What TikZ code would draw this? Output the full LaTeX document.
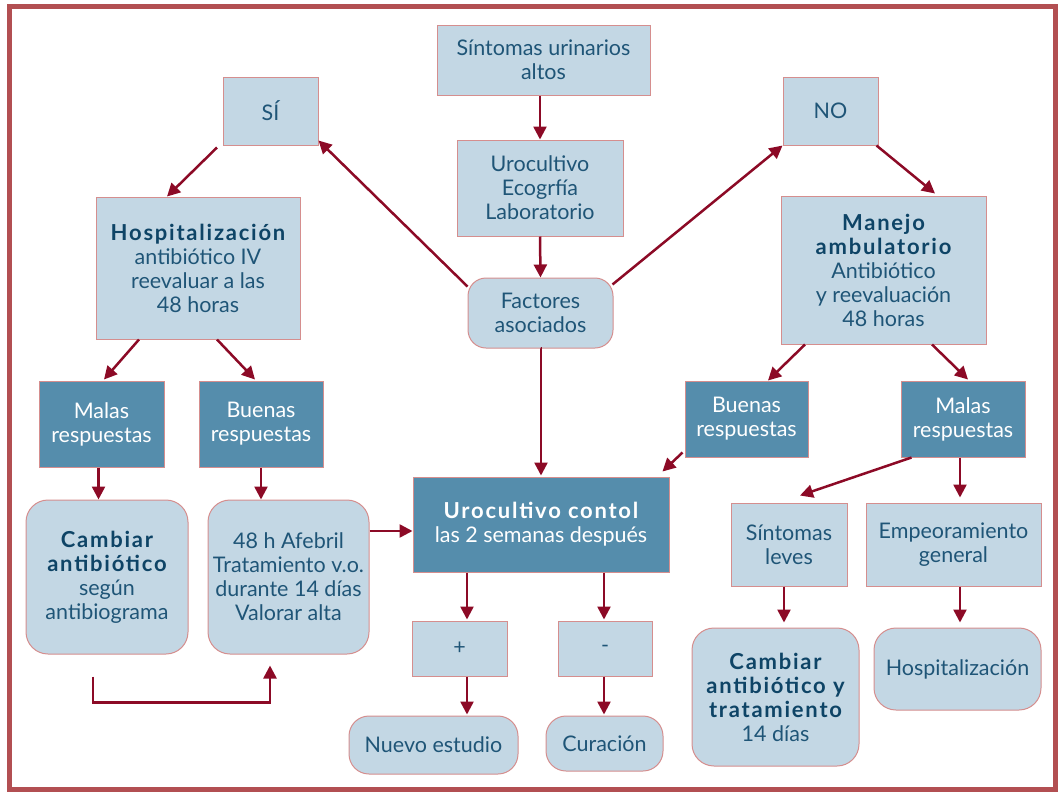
\documentclass[tikz,border=0pt]{standalone}
\usepackage{fontspec}
\setmainfont{Lato}
\usetikzlibrary{arrows.meta,calc}
\definecolor{lfill}{HTML}{C3D7E4}
\definecolor{dfill}{HTML}{558DAC}
\definecolor{bord}{HTML}{D58E8E}
\definecolor{arrc}{HTML}{8C0A26}
\definecolor{framec}{HTML}{B24F52}
\definecolor{txt}{HTML}{1F5577}
\definecolor{btxt}{HTML}{0E4466}
\newcommand\bwide{\bfseries\fontsize{22}{24}\selectfont\addfontfeature{LetterSpace=8}}
\newcommand\hb[1]{{\bwide\color{btxt}#1}}
\tikzset{
  lbox/.style={draw=bord, fill=lfill, line width=1pt, text=txt, align=center, inner sep=0pt,
    font=\fontsize{21.5}{24}\selectfont},
  dbox/.style={lbox, fill=dfill, text=white},
  rbox/.style={lbox, rounded corners=18pt},
  arr/.style={draw=arrc, line width=2.5pt, -{Triangle[length=13pt,width=13pt]}},
  framest/.style={draw=framec, line width=5pt}
}
\begin{document}
\begin{tikzpicture}[x=1pt,y=-1pt]
\useasboundingbox (0,0) rectangle (1060,793);
\draw[framest] (9.5,6.5) rectangle (1055.5,789.5);

\node[lbox, minimum width=213pt, minimum height=70pt] (sua) at (543.5,60) {Síntomas urinarios\\altos};
\node[lbox, minimum width=95pt, minimum height=68pt] (si) at (270.5,111) {SÍ};
\node[lbox, minimum width=95pt, minimum height=68pt] (no) at (830.5,111) {NO};
\node[lbox, minimum width=166pt, minimum height=96pt] (uro) at (540,188) {Urocultivo\\Ecogrfía\\Laboratorio};
\node[lbox, minimum width=204pt, minimum height=142pt] (hosp) at (198,268) {\hb{Hospitalización}\\antibiótico IV\\reevaluar a las\\48 horas};
\node[lbox, minimum width=205pt, minimum height=148pt] (amb) at (883.5,270) {\hb{Manejo}\\\hb{ambulatorio}\\Antibiótico\\y reevaluación\\48 horas};
\node[rbox, minimum width=145pt, minimum height=70pt] (fact) at (540.5,313) {Factores\\asociados};
\node[dbox, minimum width=125pt, minimum height=86pt] (malL) at (101.5,424) {Malas\\respuestas};
\node[dbox, minimum width=124pt, minimum height=86pt] (buL) at (261,424) {Buenas\\respuestas};
\node[dbox, minimum width=123pt, minimum height=76pt] (buR) at (746.5,419) {Buenas\\respuestas};
\node[dbox, minimum width=124pt, minimum height=76pt] (malR) at (963,419) {Malas\\respuestas};
\node[dbox, minimum width=256pt, minimum height=95pt] (ctrl) at (541,524.5) {{\bwide Urocultivo contol}\\las 2 semanas después};
\node[lbox, rounded corners=22pt, minimum width=162pt, minimum height=154pt] (camL) at (107,577) {\hb{Cambiar}\\\hb{antibiótico}\\según\\antibiograma};
\node[lbox, rounded corners=22pt, minimum width=161pt, minimum height=154pt] (afe) at (288.5,577) {48 h Afebril\\Tratamiento v.o.\\durante 14 días\\Valorar alta};
\node[lbox, minimum width=116pt, minimum height=83pt] (sl) at (789,544.5) {Síntomas\\leves};
\node[lbox, minimum width=175pt, minimum height=83pt] (emp) at (953.5,544.5) {Empeoramiento\\general};
\node[lbox, minimum width=95pt, minimum height=55pt] (plus) at (459.5,648.5) {+};
\node[lbox, minimum width=94pt, minimum height=55pt] (minus) at (605,648.5) {-};
\node[rbox, rounded corners=20pt, minimum width=169pt, minimum height=58pt] (nue) at (433.5,745) {Nuevo estudio};
\node[rbox, rounded corners=20pt, minimum width=117pt, minimum height=55pt] (cur) at (604.5,743.5) {Curación};
\node[lbox, rounded corners=22pt, minimum width=167pt, minimum height=138pt] (camR) at (775.5,697) {\hb{Cambiar}\\\hb{antibiótico y}\\\hb{tratamiento}\\14 días};
\node[lbox, rounded corners=22pt, minimum width=167pt, minimum height=82pt] (hospR) at (957.5,669) {Hospitalización};

\draw[arr] (sua.south -| uro) -- (uro.north);
\draw[arr] (uro.south) -- (fact.north);
\draw[arr] (fact.south) -- (fact.south -| ctrl.north) -- ([yshift=1pt]ctrl.north);
\draw[arr] ([yshift=-9pt]fact.north west) -- ([yshift=5pt]si.south east);
\draw[arr] ([xshift=-1pt,yshift=-7pt]fact.north east) -- (no.south west);
\draw[arr] ([xshift=-53.5pt,yshift=-2pt]si.south) -- ([xshift=-31pt]hosp.north);
\draw[arr] ([xshift=-2pt]no.south east) -- ([xshift=51.5pt,yshift=2pt]amb.north);
\draw[arr] ([xshift=-59pt]hosp.south) -- ([xshift=2.5pt,yshift=1pt]malL.north);
\draw[arr] ([xshift=19pt]hosp.south) -- ([xshift=-6pt,yshift=1pt]buL.north);
\draw[arr] ([xshift=-78.5pt]amb.south) -- ([xshift=21.5pt]buR.north);
\draw[arr] ([xshift=48.5pt]amb.south) -- ([xshift=5pt,yshift=1pt]malR.north);
\draw[arr] ([xshift=-2pt,yshift=5pt]buR.south west) -- ([xshift=-7pt,yshift=5pt]ctrl.north east);
\draw[arr] ([xshift=-3pt]malL.south) -- ([xshift=-3pt]malL.south |- camL.north);
\draw[arr] (buL.south) -- (buL.south |- afe.north);
\draw[arr] ([yshift=46pt]afe.east) -- ([yshift=46pt]afe.east -| ctrl.west);
\draw[arr, line cap=butt] ([xshift=-14pt,yshift=-22pt]camL.south) -- ++(0,26) -| ([xshift=-18.5pt,yshift=-11pt]afe.south);
\draw[arr] ([xshift=-74pt]ctrl.south) -- ([xshift=7.5pt,yshift=1pt]plus.north);
\draw[arr] ([xshift=63pt]ctrl.south) -- ([xshift=-1pt,yshift=1pt]minus.north);
\draw[arr] ([xshift=7.5pt]plus.south) -- ([xshift=33.5pt,yshift=1pt]nue.north);
\draw[arr] ([xshift=-1pt]minus.south) -- ([xshift=-0.5pt,yshift=1pt]cur.north);
\draw[arr] ([xshift=11pt]malR.south west) -- ([xshift=11pt,yshift=7pt]sl.north);
\draw[arr] ([xshift=-3pt]malR.south) -- ([xshift=6.5pt,yshift=5pt]emp.north);
\draw[arr] ([xshift=-5pt]sl.south) -- ([xshift=8.5pt,yshift=5pt]camR.north);
\draw[arr] ([xshift=6.5pt]emp.south) -- ([xshift=2.5pt,yshift=5pt]hospR.north);
\end{tikzpicture}
\end{document}
